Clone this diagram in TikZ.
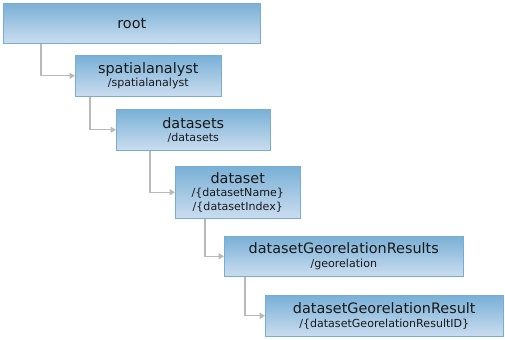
\documentclass[tikz,border=0pt]{standalone}
\usepackage{fontspec}
\setmainfont{DejaVu Sans}
\usetikzlibrary{arrows.meta}

\definecolor{restop}{RGB}{121,176,214}
\definecolor{resbottom}{RGB}{203,221,240}
\definecolor{resline}{RGB}{120,172,210}
\definecolor{linkgray}{RGB}{185,185,185}

\newcommand{\restitle}[1]{{\fontsize{10.8}{12}\selectfont #1}}
\newcommand{\respath}[1]{{\fontsize{8.3}{9.5}\selectfont #1}}

\begin{document}
\begin{tikzpicture}
  [resource/.style={rectangle,draw=resline,top color=restop,bottom color=resbottom,
inner sep=0pt,anchor=north west,align=center,text=black!90}, link/.style={draw=linkgray,line width=1pt,-{Triangle[length=4pt,width=4.5pt]}}]
  \useasboundingbox (0,0) rectangle (378.75pt,-254.25pt);
  \node[resource,minimum width=192.75pt,minimum height=30pt] (root) at (2.25pt,-2.25pt) {\restitle{root}};
  \node[resource,minimum width=109.5pt,minimum height=30.75pt] (spatial) at (56.25pt,-41.25pt)
    {\restitle{spatialanalyst}\\[-2pt]\respath{/spatialanalyst}};
  \node[resource,minimum width=115.5pt,minimum height=30.75pt] (datasets) at (87pt,-81.75pt)
    {\restitle{datasets}\\[-2pt]\respath{/datasets}};
  \node[resource,minimum width=93.75pt,minimum height=39pt] (dataset) at (131.25pt,-124.5pt)
    {\restitle{dataset}\\[-2pt]\respath{/\{datasetName\}}\\[-1.5pt]\respath{/\{datasetIndex\}}};
  \node[resource,minimum width=179.25pt,minimum height=30pt] (results) at (168pt,-177pt)
    {\restitle{datasetGeorelationResults}\\[-2pt]\respath{/georelation}};
  \node[resource,minimum width=178.5pt,minimum height=30.75pt] (result) at (198.75pt,-221.25pt)
    {\restitle{datasetGeorelationResult}\\[-2pt]\respath{/\{datasetGeorelationResultID\}}};

  \draw[link] ([xshift=28.5pt]root.south west) |- (spatial.west);
  \draw[link] ([xshift=11.25pt]spatial.south west) |- (datasets.west);
  \draw[link] ([xshift=25.5pt]datasets.south west) |- (dataset.west);
  \draw[link] ([xshift=22.5pt]dataset.south west) |- (results.west);
  \draw[link] ([xshift=15.75pt]results.south west) |- (result.west);

\end{tikzpicture}
\end{document}
